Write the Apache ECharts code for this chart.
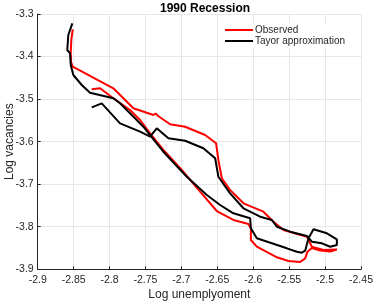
<!DOCTYPE html>
<html>
<head>
<meta charset="utf-8">
<script src="https://cdn.jsdelivr.net/npm/echarts@6/dist/echarts.min.js"></script>
<style>
html,body{margin:0;padding:0;background:#fff;}
#c{width:374px;height:302px;}
</style>
</head>
<body>
<div id="c"></div>
<script>
// Observed path: [log unemployment, log vacancies]
const observedU = [-2.8513,-2.8532,-2.8540,-2.8536,-2.8513,-2.7947,-2.7668,-2.7390,-2.7359,-2.7324,-2.7157,-2.6948,-2.6670,-2.6517,-2.6485,-2.6437,-2.6322,-2.6206,-2.6136,-2.5858,-2.5719,-2.5579,-2.5253,-2.5184,-2.5022,-2.4836,-2.4929,-2.5068,-2.5184,-2.5245,-2.5277,-2.5347,-2.5510,-2.5671,-2.5950,-2.6033,-2.6033,-2.6067,-2.6276,-2.6507,-2.6740,-2.6994,-2.7251,-2.7436,-2.7575,-2.7714,-2.7947,-2.8132,-2.8248];
const observedV = [-3.3360,-3.3611,-3.3893,-3.4128,-3.4239,-3.4746,-3.5216,-3.5374,-3.5338,-3.5397,-3.5592,-3.5649,-3.5844,-3.6039,-3.6431,-3.6861,-3.7136,-3.7331,-3.7449,-3.7646,-3.7881,-3.8076,-3.8234,-3.8469,-3.8546,-3.8535,-3.8582,-3.8558,-3.8499,-3.8586,-3.8742,-3.8829,-3.8805,-3.8718,-3.8469,-3.8311,-3.8036,-3.7935,-3.7841,-3.7630,-3.7176,-3.6666,-3.6196,-3.5804,-3.5491,-3.5256,-3.4981,-3.4746,-3.4770];
// Taylor approximation path
const taylorU = [-2.8248,-2.8109,-2.7854,-2.7575,-2.7436,-2.7343,-2.7181,-2.6948,-2.6694,-2.6530,-2.6485,-2.6322,-2.6136,-2.5904,-2.5741,-2.5671,-2.5486,-2.5253,-2.5184,-2.5044,-2.4929,-2.4836,-2.4836,-2.4975,-2.5161,-2.5231,-2.5277,-2.5323,-2.5393,-2.5532,-2.5950,-2.6033,-2.6043,-2.6067,-2.6276,-2.6461,-2.6646,-2.6925,-2.7251,-2.7436,-2.7529,-2.7691,-2.7854,-2.7947,-2.8272,-2.8387,-2.8504,-2.8540,-2.8550,-2.8588,-2.8574,-2.8518];
const taylorV = [-3.5193,-3.5099,-3.5569,-3.5766,-3.5884,-3.5686,-3.5921,-3.5978,-3.6156,-3.6391,-3.6824,-3.7214,-3.7566,-3.7764,-3.7841,-3.7999,-3.8116,-3.8217,-3.8351,-3.8389,-3.8469,-3.8429,-3.8295,-3.8154,-3.8060,-3.8271,-3.8563,-3.8610,-3.8586,-3.8507,-3.8271,-3.8036,-3.7801,-3.7764,-3.7684,-3.7489,-3.7254,-3.6824,-3.6236,-3.5844,-3.5649,-3.5374,-3.5099,-3.4981,-3.4850,-3.4669,-3.4434,-3.4199,-3.3924,-3.3846,-3.3494,-3.3219];
const xTicks = ["-2.9","-2.85","-2.8","-2.75","-2.7","-2.65","-2.6","-2.55","-2.5","-2.45"];
const yTicks = ["-3.9","-3.8","-3.7","-3.6","-3.5","-3.4","-3.3"];
const seriesNames = ["Observed","Tayor approximation"];

const zip = (a,b)=>a.map((v,i)=>[v,b[i]]);
const font = "'Liberation Sans', Arial, sans-serif";
const axCol = '#262626';
const chart = echarts.init(document.getElementById('c'), null, {renderer:'canvas'});
const fmt = v => parseFloat(v.toFixed(2)).toString();
chart.setOption({
  animation:false,
  backgroundColor:'#fff',
  title:{text:'1990 Recession', left:155, top:-2, textStyle:{fontFamily:font,fontSize:12,fontWeight:'bold',color:'#000'}},
  grid:{left:37.7, right:13, top:14, bottom:32.7, containLabel:false, outerBoundsMode:'none'},
  legend:{
    orient:'vertical', left:222, top:23, itemGap:1, padding:[2,8,2,3],
    backgroundColor:'#fff', borderWidth:0,
    itemWidth:28, itemHeight:2, icon:'rect',
    textStyle:{fontFamily:font,fontSize:10,color:axCol, padding:[0,0,0,-3]},
    data:seriesNames
  },
  xAxis:{
    type:'value', min:-2.9, max:-2.45, interval:0.05,
    name:'Log unemplyoment', nameLocation:'middle', nameGap:19, nameMoveOverlap:false,
    nameTextStyle:{fontFamily:font,fontSize:12,color:axCol},
    axisLine:{show:true, onZero:false, lineStyle:{color:axCol,width:1}},
    axisTick:{show:true, inside:true, length:3, lineStyle:{color:axCol}},
    axisLabel:{fontFamily:font,fontSize:10.5,color:axCol,margin:5,
      formatter:(v)=>{const s=fmt(v); return xTicks.includes(s)?s:'';}},
    splitLine:{show:true,lineStyle:{color:'#e6e6e6',width:1}}
  },
  yAxis:{
    type:'value', min:-3.9, max:-3.3, interval:0.1,
    name:'Log vacancies', nameLocation:'middle', nameGap:22, nameRotate:90, nameMoveOverlap:false,
    nameTextStyle:{fontFamily:font,fontSize:12,color:axCol},
    axisLine:{show:true, onZero:false, lineStyle:{color:axCol,width:1}},
    axisTick:{show:true, inside:true, length:3, lineStyle:{color:axCol}},
    axisLabel:{fontFamily:font,fontSize:10.5,color:axCol,margin:4,
      formatter:(v)=>{const s=fmt(v); return yTicks.includes(s)?s:'';}},
    splitLine:{show:true,lineStyle:{color:'#e6e6e6',width:1}}
  },
  series:[
    {name:seriesNames[0], type:'line', data:zip(observedU,observedV), showSymbol:false, symbol:'none',
     lineStyle:{color:'#ff0000',width:2}, itemStyle:{color:'#ff0000'}, z:2},
    {name:seriesNames[1], type:'line', data:zip(taylorU,taylorV), showSymbol:false, symbol:'none',
     lineStyle:{color:'#000000',width:2}, itemStyle:{color:'#000000'}, z:3}
  ]
});
</script>
</body>
</html>
